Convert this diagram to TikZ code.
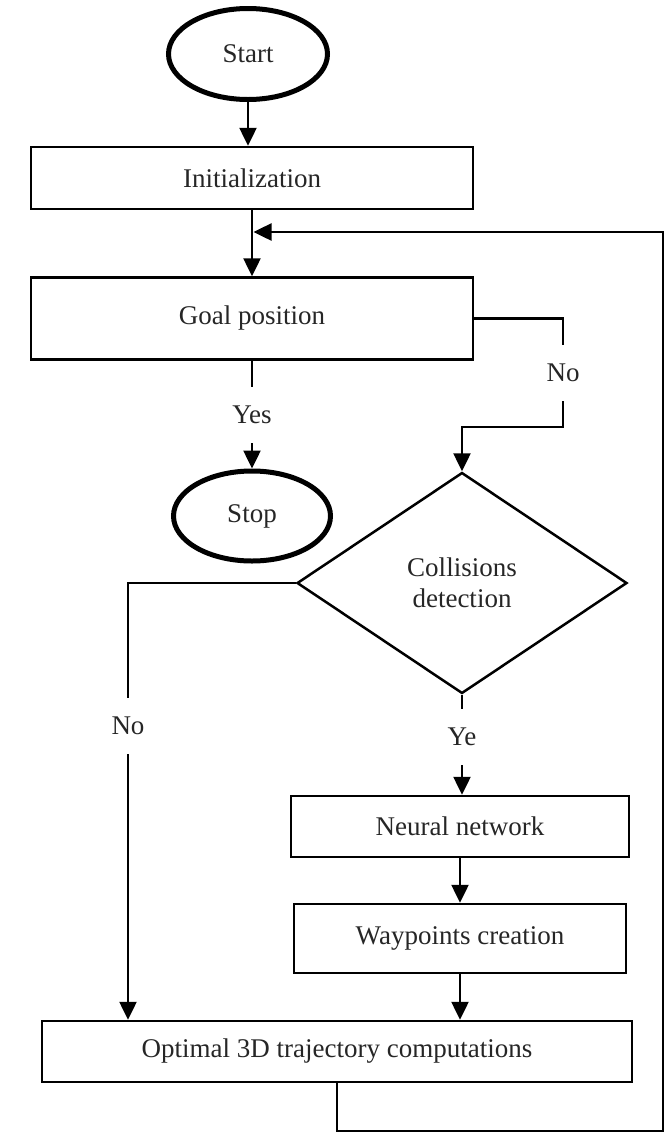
\documentclass[tikz,border=0pt]{standalone}
\usepackage{fontspec}
\setmainfont{Liberation Serif}
\usetikzlibrary{shapes.geometric,arrows.meta,calc}
\begin{document}
\begin{tikzpicture}[x=1pt,y=-1pt,
  every node/.style={font=\fontsize{27}{31}\selectfont, text=black!85},
  term/.style={ellipse, draw, line width=5pt, inner sep=0pt},
  proc/.style={rectangle, draw, line width=2.5pt, inner sep=0pt},
  decision/.style={diamond, draw, line width=2.5pt, inner sep=0pt, align=center},
  flow/.style={line width=2.5pt, -{Triangle[length=18pt,width=17pt]}},
  branch/.style={fill=white, inner sep=0pt, minimum height=56pt, minimum width=40pt}]
\useasboundingbox (0,0) rectangle (670,1133);

% main blocks
\node[term, minimum width=159pt, minimum height=91pt] (start) at (248,54) {Start};
\node[proc, minimum width=442pt, minimum height=62pt] (init) at (252,178) {Initialization};
\node[proc, minimum width=442pt, minimum height=82pt] (goal) at (252,318.5) {Goal position};
\node[term, minimum width=157pt, minimum height=90pt] (stop) at (252,516) {Stop};
\node[decision, minimum width=330pt, minimum height=221pt] (coll) at (462,583) {Collisions\\detection};
\node[proc, minimum width=338pt, minimum height=61pt] (nn) at (460,826.5) {Neural network};
\node[proc, minimum width=332pt, minimum height=69pt] (wp) at (460,938.5) {Waypoints creation};
\node[proc, minimum width=590pt, minimum height=61pt] (opt) at (337,1051.5) {Optimal 3D trajectory computations};

% helper points for routing
\coordinate (merge) at (253.5,232);
\coordinate (r2) at (563,427);
\coordinate (lx) at (128,0);
\coordinate (fbr) at (663,1131);

% connectors
\draw[flow] (start) -- (start |- init.north);
\draw[flow] (init) -- (goal);
\draw[flow] (goal.east) -- (goal.east -| r2) -- node[branch]{No} (r2) -| (coll.north);
\draw[flow] (goal.south) -- node[branch]{Yes} (stop.north);
\draw[flow] (coll.south) -- node[branch, pos=0.42]{Ye} (coll.south |- nn.north);
\draw[flow] (nn) -- (wp);
\draw[flow] (wp) -- (wp.south |- opt.north);
\draw[flow] (coll.west) -| node[branch, pos=0.664]{No} (lx |- opt.north);
\draw[flow] (opt.south) |- (fbr) |- (merge);
\end{tikzpicture}
\end{document}
